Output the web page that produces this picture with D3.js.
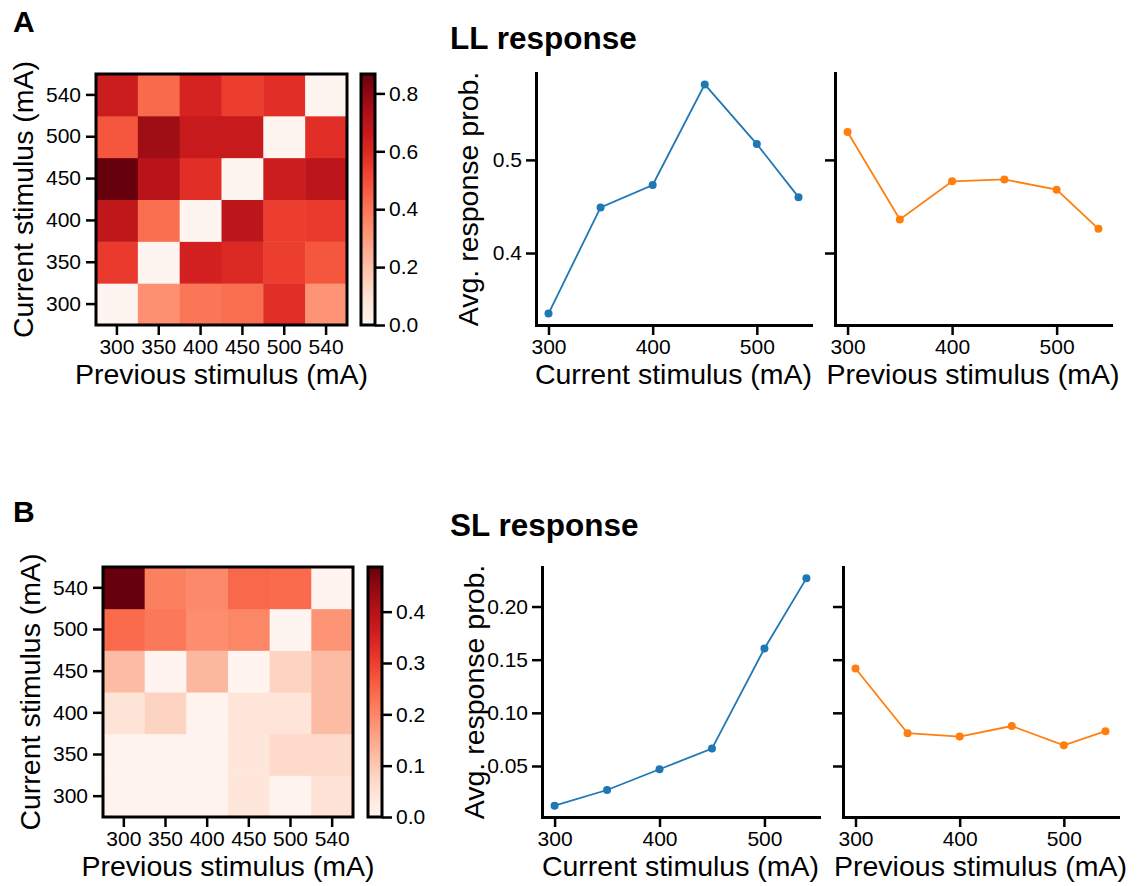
<!DOCTYPE html>
<html>
<head>
<meta charset="utf-8">
<script src="https://cdn.jsdelivr.net/npm/d3@7"></script>
<style>
  body { margin: 0; background: #fff; }
  svg text { font-family: "Liberation Sans", Arial, sans-serif; fill: #000; }
</style>
</head>
<body>
<svg id="fig" width="1141" height="886"></svg>
<script>
// stimulus levels (mA)
const stimuli = [300, 350, 400, 450, 500, 540];

// heatmap rows: current stimulus (300 .. 540), columns: previous stimulus (300 .. 540)
const llMatrix = [
  [0.00, 0.33, 0.40, 0.42, 0.58, 0.32],   // current 300
  [0.55, 0.00, 0.63, 0.60, 0.54, 0.48],   // current 350
  [0.68, 0.42, 0.00, 0.69, 0.54, 0.55],   // current 400
  [0.867, 0.70, 0.58, 0.00, 0.65, 0.69],  // current 450
  [0.48, 0.76, 0.66, 0.66, 0.00, 0.58],   // current 500
  [0.65, 0.43, 0.62, 0.54, 0.58, 0.00]    // current 540
];
const slMatrix = [
  [0.007, 0.007, 0.007, 0.040, 0.005, 0.050],
  [0.007, 0.007, 0.007, 0.040, 0.068, 0.068],
  [0.047, 0.080, 0.005, 0.045, 0.045, 0.120],
  [0.120, 0.003, 0.125, 0.003, 0.080, 0.120],
  [0.240, 0.220, 0.190, 0.200, 0.000, 0.180],
  [0.487, 0.210, 0.195, 0.244, 0.240, 0.003]
];

// average response probability
const llByCurrent = [0.335, 0.449, 0.473, 0.581, 0.517, 0.460];
const llByPrevious = [0.530, 0.436, 0.477, 0.479, 0.468, 0.426];
const slByCurrent = [0.0127, 0.0274, 0.0469, 0.0664, 0.1605, 0.2265];
const slByPrevious = [0.1417, 0.0808, 0.0777, 0.0876, 0.0695, 0.0827];

const llTicks = [0.4, 0.5];
const slTicks = [0.05, 0.10, 0.15, 0.20];
const lineTicksX = [300, 400, 500];
const llBarTicks = [0, 0.2, 0.4, 0.6, 0.8];
const slBarTicks = [0, 0.1, 0.2, 0.3, 0.4];

const svg = d3.select('#fig');
const TICK_FONT = 21;
const LABEL_FONT = 28.5;

function styleAxis(g) {
  g.selectAll('.domain').attr('stroke', '#000').attr('stroke-width', 3).attr('stroke-linecap', 'square');
  g.selectAll('.tick line').attr('stroke', '#000').attr('stroke-width', 2.5);
  g.selectAll('.tick text').attr('font-size', TICK_FONT).attr('font-family', '"Liberation Sans", Arial, sans-serif').attr('fill', '#000');
}

function drawHeatmap({ matrix, vmax, x0, y0, size, barX, barTicks, id }) {
  const g = svg.append('g');
  const x = d3.scaleBand().domain(stimuli).range([x0, x0 + size]);
  const y = d3.scaleBand().domain(stimuli).range([y0 + size, y0]);
  const color = d3.scaleSequential(d3.interpolateReds).domain([0, vmax]);

  const cells = [];
  matrix.forEach((row, i) => row.forEach((v, j) => cells.push({ cur: stimuli[i], prev: stimuli[j], v })));

  g.selectAll('rect.cell')
    .data(cells)
    .join('rect')
    .attr('class', 'cell')
    .attr('x', (d) => x(d.prev))
    .attr('y', (d) => y(d.cur))
    .attr('width', x.bandwidth() + 0.5)
    .attr('height', y.bandwidth() + 0.5)
    .attr('fill', (d) => color(d.v));

  g.append('rect')
    .attr('x', x0).attr('y', y0).attr('width', size).attr('height', size)
    .attr('fill', 'none').attr('stroke', '#000').attr('stroke-width', 3);

  g.append('g')
    .attr('transform', `translate(0,${y0 + size})`)
    .call(d3.axisBottom(x).tickSize(10).tickPadding(4))
    .call(styleAxis)
    .call((a) => a.select('.domain').remove());

  g.append('g')
    .attr('transform', `translate(${x0},0)`)
    .call(d3.axisLeft(y).tickSize(10).tickPadding(5))
    .call(styleAxis)
    .call((a) => a.select('.domain').remove());

  g.append('text')
    .attr('x', x0 + size / 2).attr('y', y0 + size + 59)
    .attr('text-anchor', 'middle').attr('font-size', LABEL_FONT)
    .text('Previous stimulus (mA)');

  g.append('text')
    .attr('transform', `translate(${x0 - 63},${y0 + size / 2}) rotate(-90)`)
    .attr('text-anchor', 'middle').attr('font-size', LABEL_FONT)
    .text('Current stimulus (mA)');

  // colorbar
  const barW = 14;
  const grad = svg.append('defs').append('linearGradient')
    .attr('id', id).attr('x1', 0).attr('y1', 1).attr('x2', 0).attr('y2', 0);
  d3.range(0, 1.0001, 0.05).forEach((t) => {
    grad.append('stop').attr('offset', t).attr('stop-color', d3.interpolateReds(t));
  });
  g.append('rect')
    .attr('x', barX).attr('y', y0).attr('width', barW).attr('height', size)
    .attr('fill', `url(#${id})`).attr('stroke', '#000').attr('stroke-width', 3);

  const cb = d3.scaleLinear().domain([0, vmax]).range([y0 + size, y0]);
  g.append('g')
    .attr('transform', `translate(${barX + barW},0)`)
    .call(d3.axisRight(cb).tickValues(barTicks).tickFormat(d3.format('.1f')).tickSize(10).tickPadding(4))
    .call(styleAxis)
    .call((a) => a.select('.domain').remove());
}

function drawLines({ cur, prev, ticks, fmt, top, bottom, leftA, rightA, leftB, rightB }) {
  const all = cur.concat(prev);
  const [lo, hi] = d3.extent(all);
  const pad = (hi - lo) * 0.05;
  const xPad = (d3.max(stimuli) - d3.min(stimuli)) * 0.05;
  const xDom = [d3.min(stimuli) - xPad, d3.max(stimuli) + xPad];
  const y = d3.scaleLinear().domain([lo - pad, hi + pad]).range([bottom, top]);

  const panels = [
    { vals: cur, color: '#1f77b4', left: leftA, right: rightA, label: 'Current stimulus (mA)', showY: true },
    { vals: prev, color: '#ff7f0e', left: leftB, right: rightB, label: 'Previous stimulus (mA)', showY: false }
  ];

  panels.forEach((p) => {
    const x = d3.scaleLinear().domain(xDom).range([p.left, p.right]);
    const g = svg.append('g');
    const pts = stimuli.map((s, i) => [s, p.vals[i]]);

    g.append('path')
      .datum(pts)
      .attr('fill', 'none')
      .attr('stroke', p.color)
      .attr('stroke-width', 1.8)
      .attr('d', d3.line().x((d) => x(d[0])).y((d) => y(d[1])));

    g.selectAll('circle')
      .data(pts)
      .join('circle')
      .attr('cx', (d) => x(d[0]))
      .attr('cy', (d) => y(d[1]))
      .attr('r', 4)
      .attr('fill', p.color);

    g.append('g')
      .attr('transform', `translate(0,${bottom})`)
      .call(d3.axisBottom(x).tickValues(lineTicksX).tickSize(10).tickSizeOuter(0).tickPadding(4))
      .call(styleAxis);

    g.append('g')
      .attr('transform', `translate(${p.left},0)`)
      .call(d3.axisLeft(y).tickValues(ticks).tickFormat(p.showY ? d3.format(fmt) : () => '').tickSize(10).tickSizeOuter(0).tickPadding(4))
      .call(styleAxis);

    g.append('text')
      .attr('x', (p.left + p.right) / 2).attr('y', bottom + 59)
      .attr('text-anchor', 'middle').attr('font-size', LABEL_FONT)
      .text(p.label);

    if (p.showY) {
      g.append('text')
        .attr('transform', `translate(${p.left - 58},${(top + bottom) / 2}) rotate(-90)`)
        .attr('text-anchor', 'middle').attr('font-size', LABEL_FONT)
        .text('Avg. response prob.');
    }
  });
}

// panel A
drawHeatmap({ matrix: llMatrix, vmax: 0.867, x0: 96, y0: 74, size: 251, barX: 361, barTicks: llBarTicks, id: 'gradA' });
drawLines({ cur: llByCurrent, prev: llByPrevious, ticks: llTicks, fmt: '.1f', top: 73, bottom: 325, leftA: 536, rightA: 811, leftB: 835, rightB: 1111 });

// panel B
drawHeatmap({ matrix: slMatrix, vmax: 0.487, x0: 103, y0: 567, size: 250, barX: 368, barTicks: slBarTicks, id: 'gradB' });
drawLines({ cur: slByCurrent, prev: slByPrevious, ticks: slTicks, fmt: '.2f', top: 567, bottom: 817, leftA: 542, rightA: 819, leftB: 843, rightB: 1118 });

// letters and titles
svg.append('text').attr('x', 13).attr('y', 32).attr('font-size', 30).attr('font-weight', 'bold').text('A');
svg.append('text').attr('x', 13).attr('y', 522).attr('font-size', 30).attr('font-weight', 'bold').text('B');
svg.append('text').attr('x', 450).attr('y', 49).attr('font-size', 31.5).attr('font-weight', 'bold').text('LL response');
svg.append('text').attr('x', 450).attr('y', 536).attr('font-size', 31.5).attr('font-weight', 'bold').text('SL response');
</script>
</body>
</html>
